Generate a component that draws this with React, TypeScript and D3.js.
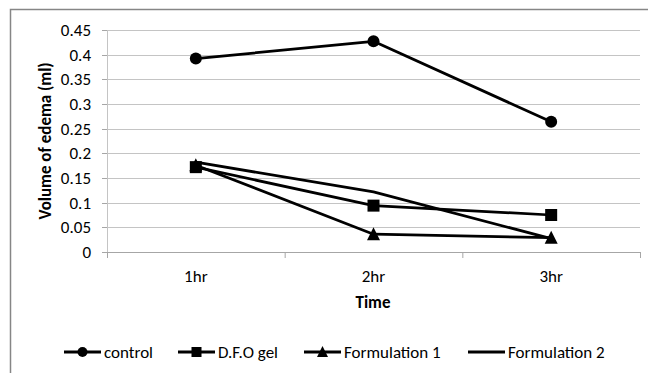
import React from "react";
import * as d3 from "d3";

// categories and series
const times = ["1hr", "2hr", "3hr"];
const control = [0.392, 0.427, 0.264];
const dfoGel = [0.172, 0.094, 0.075];
const formulation1 = [0.176, 0.036, 0.029];
const formulation2 = [0.182, 0.122, 0.027];
const yTicks = [0, 0.05, 0.1, 0.15, 0.2, 0.25, 0.3, 0.35, 0.4, 0.45];
const seriesNames = ["control", "D.F.O gel", "Formulation 1", "Formulation 2"];

const W = 648, H = 373;
const FONT = "Carlito, Calibri, 'Open Sans', sans-serif";
const FS = 17;

function marker(kind: string, x: number, y: number, s: number, key?: any) {
  if (kind === "circle") return <circle key={key} cx={x} cy={y} r={s / 2} fill="#000" />;
  if (kind === "square") return <rect key={key} x={x - s / 2} y={y - s / 2} width={s} height={s} fill="#000" />;
  if (kind === "triangle") {
    const p = d3.path();
    p.moveTo(x, y - s / 2 - 1);
    p.lineTo(x + s / 2 + 0.5, y + s / 2);
    p.lineTo(x - s / 2 - 0.5, y + s / 2);
    p.closePath();
    return <path key={key} d={p.toString()} fill="#000" />;
  }
  return null;
}

export default function App() {
  const left = 107, right = 640, top = 30, bottom = 252;
  const x = d3.scalePoint<string>().domain(times).range([left, right]).padding(0.5);
  const y = d3.scaleLinear().domain([0, 0.45]).range([bottom, top]);
  const band = (right - left) / times.length;

  const series = [
    { name: seriesNames[0], values: control, kind: "circle", size: 12 },
    { name: seriesNames[1], values: dfoGel, kind: "square", size: 12 },
    { name: seriesNames[2], values: formulation1, kind: "triangle", size: 12 },
    { name: seriesNames[3], values: formulation2, kind: "none", size: 0 },
  ];

  const line = d3.line<number>()
    .x((_, i) => x(times[i]) as number)
    .y((d) => y(d));

  // legend entries: line start
  const legendX = [64, 178, 304, 468];
  const legendY = 352;

  return (
    <svg width={W} height={H} style={{ position: "absolute", left: 0, top: 0, background: "#fff" }}>
      <rect x={0} y={0} width={W} height={H} fill="#fff" />
      {/* chart frame (clipped at right and bottom) */}
      <path d={`M10.5,${H + 2} V9.5 H${W + 2}`} fill="none" stroke="#868686" strokeWidth={1.5} />

      {/* gridlines */}
      {yTicks.slice(1).map((t) => (
        <line key={t} x1={left} x2={right} y1={Math.round(y(t)) + 0.5} y2={Math.round(y(t)) + 0.5} stroke="#c4c4c4" strokeWidth={1.2} />
      ))}
      {/* axes */}
      <line x1={left + 0.5} x2={left + 0.5} y1={top} y2={bottom} stroke="#c4c4c4" strokeWidth={1} />
      <line x1={left} x2={right} y1={bottom + 0.5} y2={bottom + 0.5} stroke="#a6a6a6" strokeWidth={1.2} />
      {yTicks.map((t) => (
        <g key={t}>
          <line x1={left - 5} x2={left} y1={Math.round(y(t)) + 0.5} y2={Math.round(y(t)) + 0.5} stroke="#a6a6a6" />
          <text x={91} y={y(t)} dy="0.35em" textAnchor="end" fontFamily={FONT} fontSize={FS} fill="#000">
            {String(t)}
          </text>
        </g>
      ))}
      {d3.range(times.length + 1).map((i) => (
        <line key={i} x1={left + band * i + 0.5} x2={left + band * i + 0.5} y1={bottom} y2={bottom + 6} stroke="#a6a6a6" />
      ))}
      {times.map((t) => (
        <text key={t} x={x(t)} y={276} dy="0.35em" textAnchor="middle" fontFamily={FONT} fontSize={FS} fill="#000">
          {t}
        </text>
      ))}

      {/* axis titles */}
      <text x={373} y={302} dy="0.35em" textAnchor="middle" fontFamily={FONT} fontSize={FS} fontWeight="bold">Time</text>
      <text transform={`translate(45,${(top + bottom) / 2}) rotate(-90)`} dy="0.35em" textAnchor="middle" fontFamily={FONT} fontSize={FS} fontWeight="bold">
        Volume of edema (ml)
      </text>

      {/* series */}
      {series.map((s) => (
        <g key={s.name}>
          <path d={line(s.values) as string} fill="none" stroke="#000" strokeWidth={2.75} strokeLinejoin="round" />
          {s.values.map((v, i) => marker(s.kind, x(times[i]) as number, y(v), s.size, i))}
        </g>
      ))}

      {/* legend */}
      {series.map((s, i) => (
        <g key={s.name}>
          <line x1={legendX[i]} x2={legendX[i] + 37} y1={legendY} y2={legendY} stroke="#000" strokeWidth={3} />
          {marker(s.kind, legendX[i] + 18.5, legendY, 10)}
          <text x={legendX[i] + 40} y={legendY} dy="0.35em" fontFamily={FONT} fontSize={FS} fill="#000">
            {s.name}
          </text>
        </g>
      ))}
    </svg>
  );
}
